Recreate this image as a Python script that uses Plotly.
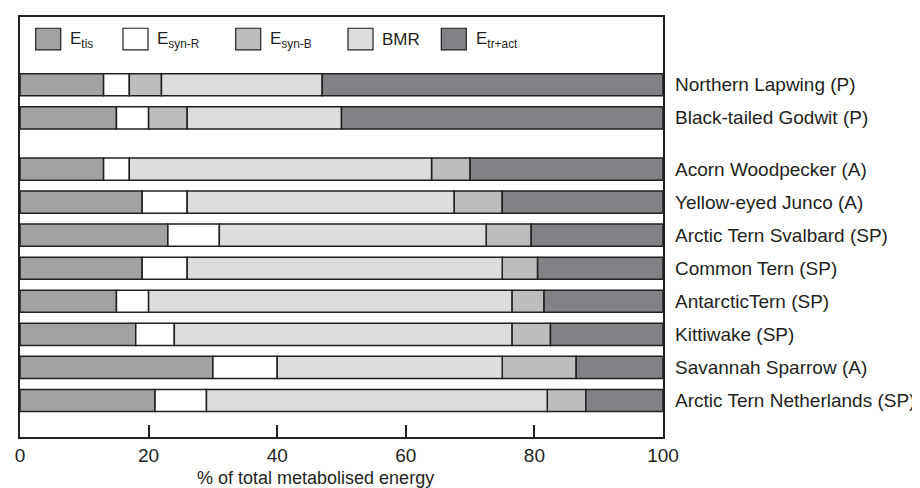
import plotly.graph_objects as go

species = ["Northern Lapwing (P)", "Black-tailed Godwit (P)", "Acorn Woodpecker (A)",
           "Yellow-eyed Junco (A)", "Arctic Tern Svalbard (SP)", "Common Tern (SP)",
           "AntarcticTern (SP)", "Kittiwake (SP)", "Savannah Sparrow (A)",
           "Arctic Tern Netherlands (SP)"]
row_pos = [9.55, 8.55, 7, 6, 5, 4, 3, 2, 1, 0]
e_tis = [13, 15, 13, 19, 23, 19, 15, 18, 30, 21]
e_syn_r = [4, 5, 4, 7, 8, 7, 5, 6, 10, 8]
e_syn_b = [5, 6, 6, 7.5, 7, 5.5, 5, 6, 11.5, 6]
bmr = [25, 24, 47, 41.5, 41.5, 49, 56.5, 52.5, 35, 53]
e_tr_act = [53, 50, 30, 25, 20.5, 19.5, 18.5, 17.5, 13.5, 12]
syn_b_before_bmr = [True, True, False, False, False, False, False, False, False, False]
x_ticks = [0, 20, 40, 60, 80, 100]
x_title = "% of total metabolised energy"

comp_names = ["E<sub>tis</sub>", "E<sub>syn-R</sub>", "E<sub>syn-B</sub>", "BMR", "E<sub>tr+act</sub>"]
comp_vals = [e_tis, e_syn_r, e_syn_b, bmr, e_tr_act]
comp_colors = ["#a1a2a4", "#ffffff", "#bcbdbf", "#dcdddf", "#808285"]
LINE = "#231f20"
FONT = "Liberation Sans, Arial, Helvetica, sans-serif"

# compute bases per row according to segment order
bases = [[0] * len(species) for _ in comp_vals]
for i in range(len(species)):
    order = [0, 1, 2, 3, 4] if syn_b_before_bmr[i] else [0, 1, 3, 2, 4]
    acc = 0
    for k in order:
        bases[k][i] = acc
        acc += comp_vals[k][i]

fig = go.Figure()
for k in range(5):
    fig.add_trace(go.Bar(
        y=row_pos, x=comp_vals[k], base=bases[k], orientation="h",
        width=0.67, marker=dict(color=comp_colors[k], line=dict(color=LINE, width=1.5)),
        showlegend=False, name=comp_names[k]))

# plot-area pixel geometry
L, R, T, B = 12, 655, 7, 429
W, H = R - L, B - T
def px(x): return (x - L) / W
def py(y): return (B - y) / H

shapes = []
annotations = []
sw_x = [27.7, 115, 227.7, 340, 433.3]
tx_x = [60, 147, 260, 371.7, 465.7]
for k in range(5):
    shapes.append(dict(type="rect", xref="paper", yref="paper",
                       x0=px(sw_x[k]), x1=px(sw_x[k] + 25), y0=py(40), y1=py(18.3),
                       fillcolor=comp_colors[k], line=dict(color=LINE, width=1.2)))
    annotations.append(dict(xref="paper", yref="paper", x=px(tx_x[k]), y=py(30),
                            xanchor="left", yanchor="middle", text=comp_names[k],
                            showarrow=False, font=dict(size=17, color=LINE, family=FONT)))

# species labels on the right of the frame
for name, yv in zip(species, row_pos):
    annotations.append(dict(xref="paper", yref="y", x=px(665), y=yv, xanchor="left",
                            yanchor="middle", text=name, showarrow=False,
                            font=dict(size=19, color=LINE, family=FONT)))

# axis title (sits left of plot centre in the reference)
annotations.append(dict(xref="paper", yref="paper", x=px(188), y=py(470), xanchor="left",
                        yanchor="middle", text=x_title, showarrow=False, borderpad=0,
                        font=dict(size=18, color=LINE, family=FONT)))

fig.update_layout(
    width=920, height=488,
    margin=dict(l=L, r=920 - R, t=T, b=488 - B),
    paper_bgcolor="white", plot_bgcolor="white",
    barmode="overlay",
    font=dict(family=FONT, color=LINE, size=18),
    shapes=shapes, annotations=annotations,
    xaxis=dict(range=[0, 100], tickvals=x_ticks, ticks="inside", ticklen=12,
               tickwidth=1.5, tickcolor=LINE, showline=True, linecolor=LINE,
               linewidth=1.5, mirror=True, showgrid=False, zeroline=False,
               tickfont=dict(size=19)),
    yaxis=dict(range=[-1.105, 11.6], showticklabels=False, ticks="",
               showline=True, linecolor=LINE, linewidth=1.5, mirror=True,
               showgrid=False, zeroline=False),
)

fig.write_html("out.html")
